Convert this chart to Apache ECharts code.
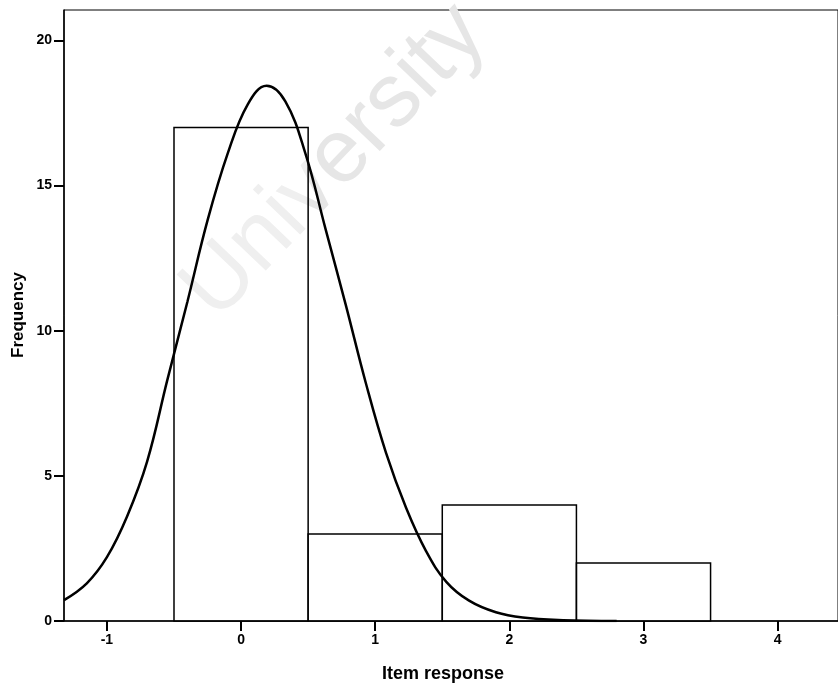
<!DOCTYPE html>
<html>
<head>
<meta charset="utf-8">
<script src="https://cdn.jsdelivr.net/npm/echarts@6/dist/echarts.min.js"></script>
<style>
  html, body { margin: 0; padding: 0; background: #fff; }
  #chart { width: 838px; height: 688px; }
</style>
</head>
<body>
<div id="chart"></div>
<script>
// histogram bins
const binStart = [-0.5, 0.5, 1.5, 2.5];
const binEnd = [0.5, 1.5, 2.5, 3.5];
const counts = [17, 3, 4, 2];

// normal curve
const curveX = [-1.32, -1.15, -1.0, -0.85, -0.7, -0.55, -0.4, -0.25, -0.1, 0.05, 0.19, 0.33, 0.48,
  0.63, 0.78, 0.93, 1.08, 1.23, 1.38, 1.53, 1.7, 1.9, 2.1, 2.4, 2.8];
const curveY = [0.72, 1.3, 2.2, 3.6, 5.5, 8.3, 11.0, 13.8, 16.1, 17.8, 18.44, 17.9, 16.1,
  13.5, 10.9, 8.2, 5.8, 3.9, 2.4, 1.35, 0.7, 0.3, 0.12, 0.03, 0];

const xTicks = [-1, 0, 1, 2, 3, 4];
const yTicks = [0, 5, 10, 15, 20];

const chart = echarts.init(document.getElementById("chart"));

const labelStyle = {
  color: "#000",
  fontFamily: "Liberation Sans",
  fontWeight: "bold",
  fontSize: 14,
};

let option = {
  animation: false,
  backgroundColor: "#fff",
  grid: {
    left: 64,
    top: 10,
    right: -2,
    bottom: 67,
    show: true,
    borderColor: "#000",
    borderWidth: 1,
  },
  graphic: [
    {
      type: "text",
      x: 335,
      y: 162,
      rotation: 0.81,
      z: 0,
      style: {
        text: "University",
        fill: "#e6e6e6",
        font: "90px 'Liberation Sans'",
        align: "center",
        verticalAlign: "middle",
      },
    },
    {
      type: "text",
      x: 443,
      y: 674,
      style: {
        text: "Item response",
        fill: "#000",
        font: "bold 18px 'Liberation Sans'",
        align: "center",
        verticalAlign: "middle",
      },
    },
    {
      type: "text",
      x: 18,
      y: 315,
      rotation: Math.PI / 2,
      style: {
        text: "Frequency",
        fill: "#000",
        font: "bold 17px 'Liberation Sans'",
        align: "center",
        verticalAlign: "middle",
      },
    },
  ],
  xAxis: {
    type: "value",
    min: -1.32,
    max: 4.45,
    axisLine: { show: true, onZero: false, lineStyle: { color: "#000", width: 1.5 } },
    axisTick: { show: true, length: 10, customValues: xTicks, lineStyle: { color: "#000", width: 2 } },
    axisLabel: Object.assign({ customValues: xTicks, margin: 12 }, labelStyle),
    splitLine: { show: false },
  },
  yAxis: {
    type: "value",
    min: 0,
    max: 21.05,
    axisLine: { show: true, onZero: false, lineStyle: { color: "#000", width: 1.5 } },
    axisTick: { show: true, length: 10, customValues: yTicks, lineStyle: { color: "#000", width: 2 } },
    axisLabel: Object.assign({ customValues: yTicks, margin: 12 }, labelStyle),
    splitLine: { show: false },
  },
  series: [
    {
      name: "Histogram",
      type: "custom",
      z: 2,
      data: binStart.map((s, i) => [s, binEnd[i], counts[i]]),
      encode: { x: [0, 1], y: 2 },
      renderItem: function (params, api) {
        const p0 = api.coord([api.value(0), api.value(2)]);
        const p1 = api.coord([api.value(1), 0]);
        return {
          type: "rect",
          shape: { x: p0[0], y: p0[1], width: p1[0] - p0[0], height: p1[1] - p0[1] },
          style: { fill: "rgba(255,255,255,0.35)", stroke: "#000", lineWidth: 1.5 },
        };
      },
    },
    {
      name: "Normal",
      type: "line",
      z: 3,
      smooth: 0.4,
      showSymbol: false,
      lineStyle: { color: "#000", width: 2.5 },
      data: curveX.map((x, i) => [x, curveY[i]]),
    },
  ],
};

chart.setOption(option);
</script>
</body>
</html>
